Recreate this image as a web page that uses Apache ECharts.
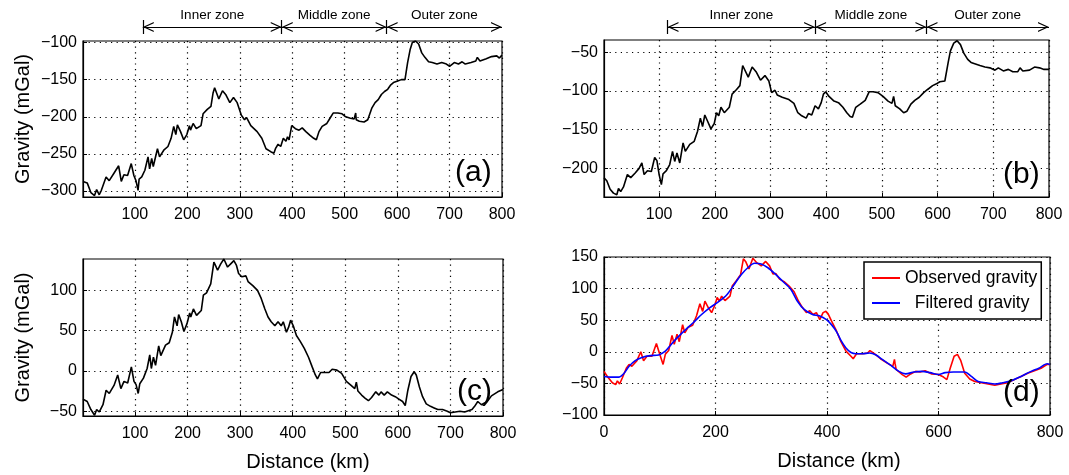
<!DOCTYPE html>
<html>
<head>
<meta charset="utf-8">
<script src="https://cdn.jsdelivr.net/npm/echarts@6/dist/echarts.min.js"></script>
<style>
  html, body { margin: 0; padding: 0; background: #fff; }
  #chart { width: 1069px; height: 475px; }
</style>
</head>
<body>
<div id="chart"></div>
<script>
// panel (a) - distance (km) / gravity (mGal)
var kmA = [1, 9, 16, 23, 27, 32, 36, 45, 51, 60, 69, 74, 79, 86, 93, 98, 102, 106, 108, 113, 119, 125, 128, 132, 135, 143, 147, 155, 163, 169, 174, 178, 181, 187, 193, 199, 204, 206, 211, 217, 226, 230, 238, 245, 249, 252, 260, 267, 273, 281, 288, 295, 303, 309, 313, 321, 333, 342, 350, 359, 365, 368, 373, 378, 383, 388, 391, 394, 399, 406, 413, 419, 426, 434, 441, 446, 451, 457, 466, 472, 478, 487, 495, 502, 511, 518, 521, 522, 528, 537, 544, 552, 558, 564, 570, 576, 582, 588, 593, 601, 608, 615, 620, 625, 629, 635, 641, 647, 653, 660, 667, 676, 685, 694, 700, 709, 717, 724, 730, 741, 750, 753, 758, 770, 780, 790, 795, 800];
var gravA = [-287, -289, -302, -306, -298, -305, -299, -281, -286, -276, -266, -287, -278, -279, -263, -279, -286, -299, -284, -281, -272, -254, -270, -256, -267, -243, -254, -245, -240, -229, -213, -224, -211, -220, -231, -224, -212, -218, -209, -216, -212, -196, -190, -186, -168, -161, -176, -165, -170, -181, -174, -181, -198, -204, -201, -212, -220, -229, -243, -247, -249, -243, -237, -240, -229, -233, -227, -231, -212, -216, -218, -215, -220, -225, -229, -231, -220, -213, -209, -202, -195, -195, -196, -200, -202, -203, -195, -204, -206, -207, -204, -188, -181, -177, -170, -166, -163, -157, -154, -152, -150, -150, -127, -109, -100, -98, -102, -114, -120, -126, -127, -129, -127, -129, -132, -127, -129, -126, -129, -127, -125, -120, -125, -122, -119, -118, -121, -117];

// panel (b)
var kmB = [1, 6, 12, 18, 24, 27, 31, 36, 43, 49, 57, 64, 69, 73, 79, 86, 92, 96, 100, 104, 107, 113, 119, 124, 128, 132, 137, 143, 147, 155, 163, 169, 174, 178, 182, 187, 193, 199, 203, 207, 211, 217, 226, 231, 239, 245, 250, 253, 260, 267, 274, 282, 290, 297, 302, 308, 312, 321, 333, 342, 349, 356, 364, 368, 374, 380, 386, 391, 395, 399, 405, 414, 422, 430, 437, 443, 447, 453, 461, 470, 477, 484, 493, 502, 511, 518, 521, 524, 532, 539, 545, 552, 559, 567, 575, 582, 591, 597, 604, 613, 619, 623, 629, 635, 641, 647, 654, 660, 668, 676, 685, 694, 703, 709, 718, 727, 735, 744, 748, 753, 765, 774, 783, 791, 800];
var gravB = [-212, -216, -227, -232, -234, -226, -230, -224, -208, -212, -206, -200, -193, -208, -203, -204, -186, -190, -208, -221, -207, -203, -195, -178, -191, -180, -193, -167, -178, -169, -165, -152, -135, -146, -131, -139, -149, -142, -128, -132, -121, -128, -121, -104, -98, -93, -67, -66, -82, -69, -75, -86, -80, -87, -102, -99, -105, -108, -111, -116, -128, -132, -135, -129, -131, -119, -123, -115, -104, -101, -107, -113, -115, -121, -128, -133, -134, -121, -117, -112, -101, -101, -102, -107, -113, -116, -107, -119, -123, -128, -126, -117, -112, -108, -102, -98, -93, -91, -88, -87, -63, -48, -38, -35, -40, -51, -59, -63, -65, -67, -69, -70, -73, -70, -74, -72, -75, -75, -70, -74, -73, -69, -70, -72, -72];

// panel (c)
var kmC = [1, 9, 16, 23, 27, 32, 39, 45, 51, 60, 67, 73, 79, 86, 93, 98, 102, 106, 109, 116, 123, 128, 131, 135, 139, 145, 149, 158, 165, 171, 175, 180, 183, 188, 193, 199, 204, 206, 211, 217, 226, 230, 236, 244, 250, 253, 257, 263, 269, 276, 282, 288, 293, 297, 303, 311, 315, 324, 333, 340, 347, 353, 359, 366, 372, 378, 382, 388, 392, 396, 401, 407, 414, 422, 430, 437, 443, 447, 453, 462, 469, 475, 478, 484, 493, 502, 511, 518, 521, 522, 524, 531, 538, 544, 550, 558, 564, 568, 574, 580, 588, 595, 602, 609, 614, 619, 625, 631, 635, 641, 647, 654, 662, 669, 676, 685, 694, 700, 709, 718, 727, 741, 746, 752, 759, 770, 778, 790, 800];
var gravC = [-35, -38, -48, -55, -48, -51, -42, -24, -28, -18, -5, -22, -13, -15, 5, -13, -17, -28, -16, -9, 3, 20, 3, 17, 7, 31, 19, 32, 35, 48, 67, 56, 70, 61, 49, 59, 72, 67, 77, 69, 75, 94, 97, 108, 135, 131, 125, 133, 139, 129, 133, 137, 131, 121, 117, 118, 111, 106, 100, 90, 77, 67, 61, 56, 61, 56, 61, 48, 54, 63, 56, 44, 37, 28, 17, 5, -5, -10, -2, -2, -2, 2, 4, 1, -3, -13, -18, -22, -14, -16, -25, -30, -34, -37, -33, -26, -30, -26, -30, -26, -30, -32, -35, -38, -43, -24, -7, -1, -5, -20, -32, -41, -44, -46, -48, -48, -50, -52, -51, -50, -51, -48, -44, -38, -42, -38, -31, -26, -23];

// panel (d) observed
var kmObs = [0, 6, 15, 21, 24, 28, 33, 40, 45, 50, 59, 66, 71, 77, 86, 94, 100, 106, 110, 116, 122, 126, 131, 135, 141, 145, 151, 159, 166, 172, 177, 181, 187, 193, 199, 203, 207, 211, 217, 226, 230, 237, 245, 250, 254, 260, 267, 274, 282, 290, 297, 303, 308, 315, 323, 332, 341, 349, 356, 363, 369, 375, 381, 387, 393, 398, 402, 408, 417, 425, 434, 443, 447, 453, 464, 473, 477, 485, 496, 508, 518, 521, 522, 524, 535, 542, 550, 559, 567, 576, 588, 600, 609, 615, 621, 628, 634, 640, 647, 656, 665, 677, 689, 701, 712, 724, 736, 748, 760, 772, 784, 795, 800];
var gravObs = [-31, -39, -49, -52, -46, -51, -41, -26, -20, -23, -14, 0, -14, -7, -7, 13, -4, -20, -4, 2, 26, 12, 28, 16, 43, 30, 39, 42, 57, 76, 64, 80, 70, 62, 74, 86, 80, 88, 81, 88, 104, 112, 122, 147, 143, 131, 148, 141, 136, 143, 136, 123, 124, 115, 111, 104, 95, 80, 70, 62, 65, 59, 62, 51, 62, 64, 60, 49, 33, 16, 1, -7, -11, -3, -3, -2, 2, -3, -11, -18, -23, -12, -18, -28, -36, -40, -35, -31, -32, -30, -35, -36, -40, -44, -26, -7, -4, -14, -34, -43, -47, -49, -51, -53, -51, -49, -44, -39, -34, -30, -26, -20, -20];

// panel (d) filtered
var kmFilt = [0, 12, 27, 36, 45, 56, 68, 83, 98, 110, 119, 131, 145, 160, 175, 190, 205, 220, 234, 246, 258, 270, 282, 294, 306, 320, 335, 347, 359, 374, 386, 399, 408, 417, 425, 434, 443, 452, 464, 476, 488, 499, 514, 529, 541, 556, 570, 585, 600, 612, 627, 647, 659, 671, 686, 701, 715, 730, 748, 766, 780, 795, 800];
var gravFilt = [-39, -40, -40, -34, -23, -14, -9, -6, -5, 1, 10, 22, 34, 46, 59, 70, 79, 90, 107, 122, 133, 140, 139, 133, 124, 112, 99, 80, 67, 59, 57, 51, 43, 32, 18, 6, -1, -3, -3, -2, -5, -12, -21, -31, -35, -32, -31, -33, -36, -33, -32, -32, -39, -47, -49, -51, -49, -46, -39, -31, -26, -19, -20];

// zones above the top panels
var zoneEdges = [115, 380, 580, 800];
var zoneNames = ['Inner zone', 'Middle zone', 'Outer zone'];

// ticks
var xTicks = [100, 200, 300, 400, 500, 600, 700, 800];
var yTicksA = [-300, -250, -200, -150, -100];
var yTicksB = [-200, -150, -100, -50];
var yTicksC = [-50, 0, 50, 100];

var FONT = '"Liberation Sans", Arial, Helvetica, sans-serif';
// open arrow head, tip at the centre of the box so it sits on the end point
var CHEV = 'path://M5,0L10,10L8.7,10L5,2.6L1.3,10L0,10ZM5,-10L5,-10Z';

function pairs(xs, ys) {
  return xs.map(function (x, i) { return [x, ys[i]]; });
}
function minusFmt(v) {
  return String(v).replace('-', '\u2212');
}

var dotted = { show: true, lineStyle: { color: '#000', width: 1.2, type: [1.2, 4.4] } };
var blackLine = { show: true, onZero: false, lineStyle: { color: '#000', width: 1.2 } };

function xAxisOf(grid, min, ticks, interval, name, shift) {
  var ax = {
    type: 'value', gridIndex: grid, min: min, max: 800,
    axisLine: blackLine,
    axisTick: { show: true, inside: true, length: 4, lineStyle: { color: '#000' } },
    axisLabel: { color: '#000', fontSize: 16, fontFamily: FONT, margin: 10 },
    splitLine: dotted
  };
  if (ticks) {
    ax.axisTick.customValues = ticks;
    ax.axisLabel.customValues = ticks;
  } else {
    ax.interval = interval;
  }
  if (name) {
    ax.name = name;
    ax.nameLocation = 'middle';
    ax.nameGap = 36;
    ax.nameTextStyle = { color: '#000', fontSize: 20, fontFamily: FONT, padding: [0, 0, 0, shift] };
  }
  return ax;
}

function yAxisOf(grid, min, max, ticks, interval, name) {
  var ax = {
    type: 'value', gridIndex: grid, min: min, max: max,
    axisLine: blackLine,
    axisTick: { show: true, inside: true, length: 4, lineStyle: { color: '#000' } },
    axisLabel: { color: '#000', fontSize: 16, fontFamily: FONT, margin: 6, formatter: minusFmt },
    splitLine: dotted
  };
  if (ticks) {
    ax.axisTick.customValues = ticks;
    ax.axisLabel.customValues = ticks;
  } else {
    ax.interval = interval;
  }
  if (name) {
    ax.name = name;
    ax.nameLocation = 'middle';
    ax.nameGap = 50;
    ax.nameTextStyle = { color: '#000', fontSize: 20, fontFamily: FONT };
  }
  return ax;
}

function curve(idx, name, xs, ys, color, smooth) {
  return {
    type: 'line', name: name, xAxisIndex: idx, yAxisIndex: idx,
    data: pairs(xs, ys), showSymbol: false, symbol: 'none', smooth: smooth || false,
    lineStyle: { color: color, width: 1.6 }, itemStyle: { color: color },
    silent: true, animation: false
  };
}

function zoneSeries(idx) {
  var lines = [];
  for (var i = 0; i < 3; i++) {
    lines.push([{ coord: [zoneEdges[i], 0], symbol: 'none' }, { coord: [zoneEdges[i], 1], symbol: 'none' }]);
  }
  zoneNames.forEach(function (n, i) {
    lines.push([{ name: n, coord: [zoneEdges[i], 0.5] }, { coord: [zoneEdges[i + 1], 0.5] }]);
  });
  return {
    type: 'line', xAxisIndex: idx, yAxisIndex: idx, data: [], clip: false, silent: true,
    markLine: {
      silent: true, animation: false, symbol: [CHEV, CHEV], symbolSize: [10, 22],
      lineStyle: { color: '#000', width: 1.2, type: 'solid' },
      label: { show: true, position: 'insideMiddleTop', distance: 5, formatter: '{b}',
               color: '#000', fontSize: 13.5, fontFamily: FONT },
      emphasis: { disabled: true },
      data: lines
    }
  };
}

function panelTag(text, left, top) {
  return { text: text, left: left, top: top, padding: 0,
           textStyle: { fontSize: 30, fontWeight: 'normal', color: '#000', fontFamily: FONT } };
}

var chart = echarts.init(document.getElementById('chart'), null, { renderer: 'canvas' });
chart.setOption({
  animation: false,
  backgroundColor: '#fff',
  textStyle: { fontFamily: FONT },
  title: [
    panelTag('(a)', 455, 158),
    panelTag('(b)', 1003, 160),
    panelTag('(c)', 457, 377),
    panelTag('(d)', 1003, 378)
  ],
  legend: {
    data: ['Observed gravity', 'Filtered gravity'],
    orient: 'vertical', left: 864, top: 262,
    padding: [7, 4, 7, 8], itemGap: 7,
    itemWidth: 28, itemHeight: 2, icon: 'rect',
    borderColor: '#000', borderWidth: 1.5, backgroundColor: '#fff',
    formatter: function (n) { return n === 'Filtered gravity' ? '  ' + n : n; },
    textStyle: { color: '#000', fontSize: 17.5, fontFamily: FONT },
    selectedMode: false
  },
  grid: [
    { left: 83, top: 41, width: 419, height: 156, show: true, borderColor: '#000', borderWidth: 1.2 },
    { left: 604, top: 40, width: 445, height: 157, show: true, borderColor: '#000', borderWidth: 1.2 },
    { left: 83, top: 259, width: 420, height: 157, show: true, borderColor: '#000', borderWidth: 1.2 },
    { left: 604, top: 257, width: 446, height: 158, show: true, borderColor: '#000', borderWidth: 1.2 },
    { left: 83, top: 20, width: 419, height: 14 },
    { left: 604, top: 20, width: 445, height: 14 }
  ],
  xAxis: [
    xAxisOf(0, 1, xTicks),
    xAxisOf(1, 1, xTicks),
    xAxisOf(2, 1, xTicks, null, 'Distance (km)', 30),
    xAxisOf(3, 0, null, 200, 'Distance (km)', 24),
    { type: 'value', gridIndex: 4, min: 1, max: 800, show: false },
    { type: 'value', gridIndex: 5, min: 1, max: 800, show: false }
  ],
  yAxis: [
    yAxisOf(0, -308, -98, yTicksA, null, 'Gravity (mGal)'),
    yAxisOf(1, -237, -34, yTicksB),
    yAxisOf(2, -56, 139, yTicksC, null, 'Gravity (mGal)'),
    yAxisOf(3, -100, 150, null, 50),
    { type: 'value', gridIndex: 4, min: 0, max: 1, show: false },
    { type: 'value', gridIndex: 5, min: 0, max: 1, show: false }
  ],
  series: [
    curve(0, 'a', kmA, gravA, '#000'),
    curve(1, 'b', kmB, gravB, '#000'),
    curve(2, 'c', kmC, gravC, '#000'),
    curve(3, 'Observed gravity', kmObs, gravObs, '#ff0000'),
    curve(3, 'Filtered gravity', kmFilt, gravFilt, '#0000ff', 0.3),
    zoneSeries(4),
    zoneSeries(5)
  ]
});
</script>
</body>
</html>
